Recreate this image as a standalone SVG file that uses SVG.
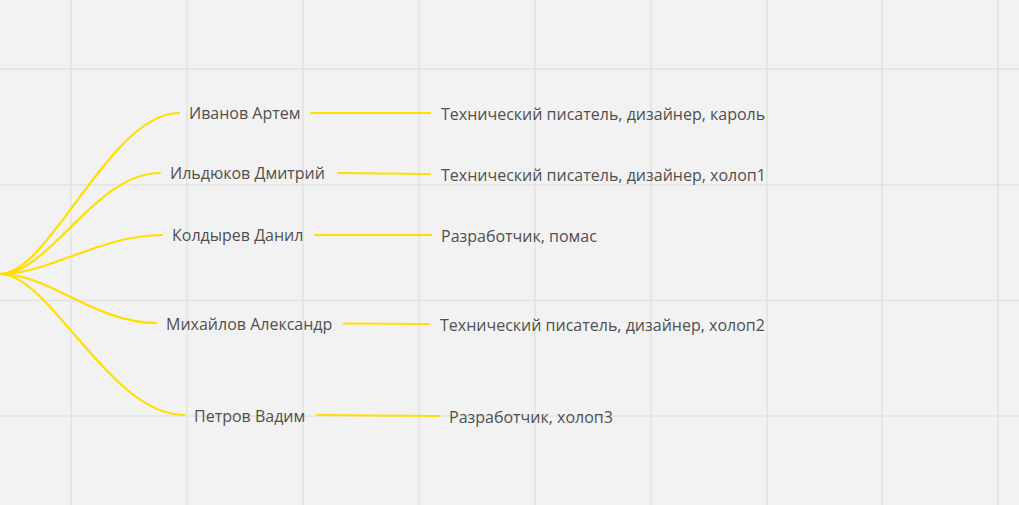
<svg xmlns="http://www.w3.org/2000/svg" width="1019" height="505" viewBox="0 0 1019 505">
<style>
.grid line{stroke:#e2e2e2;stroke-width:1.5}
.conn path{fill:none;stroke:#ffdf00;stroke-width:2.2;stroke-linecap:round}
text{font-family:"Open Sans","Noto Sans",sans-serif;font-size:16px;fill:#505050}
</style>
<rect width="1019" height="505" fill="#f2f2f2"/>
<g class="grid">
<line x1="71" y1="0" x2="71" y2="505"/>
<line x1="187" y1="0" x2="187" y2="505"/>
<line x1="303" y1="0" x2="303" y2="505"/>
<line x1="419" y1="0" x2="419" y2="505"/>
<line x1="535" y1="0" x2="535" y2="505"/>
<line x1="651" y1="0" x2="651" y2="505"/>
<line x1="767" y1="0" x2="767" y2="505"/>
<line x1="882" y1="0" x2="882" y2="505"/>
<line x1="998" y1="0" x2="998" y2="505"/>
<line x1="0" y1="69" x2="1019" y2="69"/>
<line x1="0" y1="185" x2="1019" y2="185"/>
<line x1="0" y1="300.5" x2="1019" y2="300.5"/>
<line x1="0" y1="416" x2="1019" y2="416"/>
</g>
<g class="conn" id="connectors">
<path d="M0,274 C50,274 110,113 179,113"/>
<path d="M0,274 C50,274 95,173 160,173"/>
<path d="M0,274 C50,274 100,235 162,235"/>
<path d="M0,274 C50,274 95,323 156,323"/>
<path d="M0,274 C50,274 110,415 184,415"/>
<path d="M311,113 L430,113"/>
<path d="M338,173 L430,174"/>
<path d="M315,235 L431,235"/>
<path d="M344,323.5 L429,324"/>
<path d="M317,415 L439,416"/>
</g>
<g id="n1"><text x="189" y="119">Иванов Артем</text></g>
<g id="n2"><text x="170" y="179">Ильдюков Дмитрий</text></g>
<g id="n3"><text x="172" y="241">Колдырев Данил</text></g>
<g id="n4"><text x="166" y="330">Михайлов Александр</text></g>
<g id="n5"><text x="194" y="422">Петров Вадим</text></g>
<g id="r1"><text x="441" y="120">Технический писатель, дизайнер, кароль</text></g>
<g id="r2"><text x="441" y="181">Технический писатель, дизайнер, холоп1</text></g>
<g id="r3"><text x="441" y="242">Разработчик, помас</text></g>
<g id="r4"><text x="440" y="331">Технический писатель, дизайнер, холоп2</text></g>
<g id="r5"><text x="449" y="423">Разработчик, холоп3</text></g>
</svg>
